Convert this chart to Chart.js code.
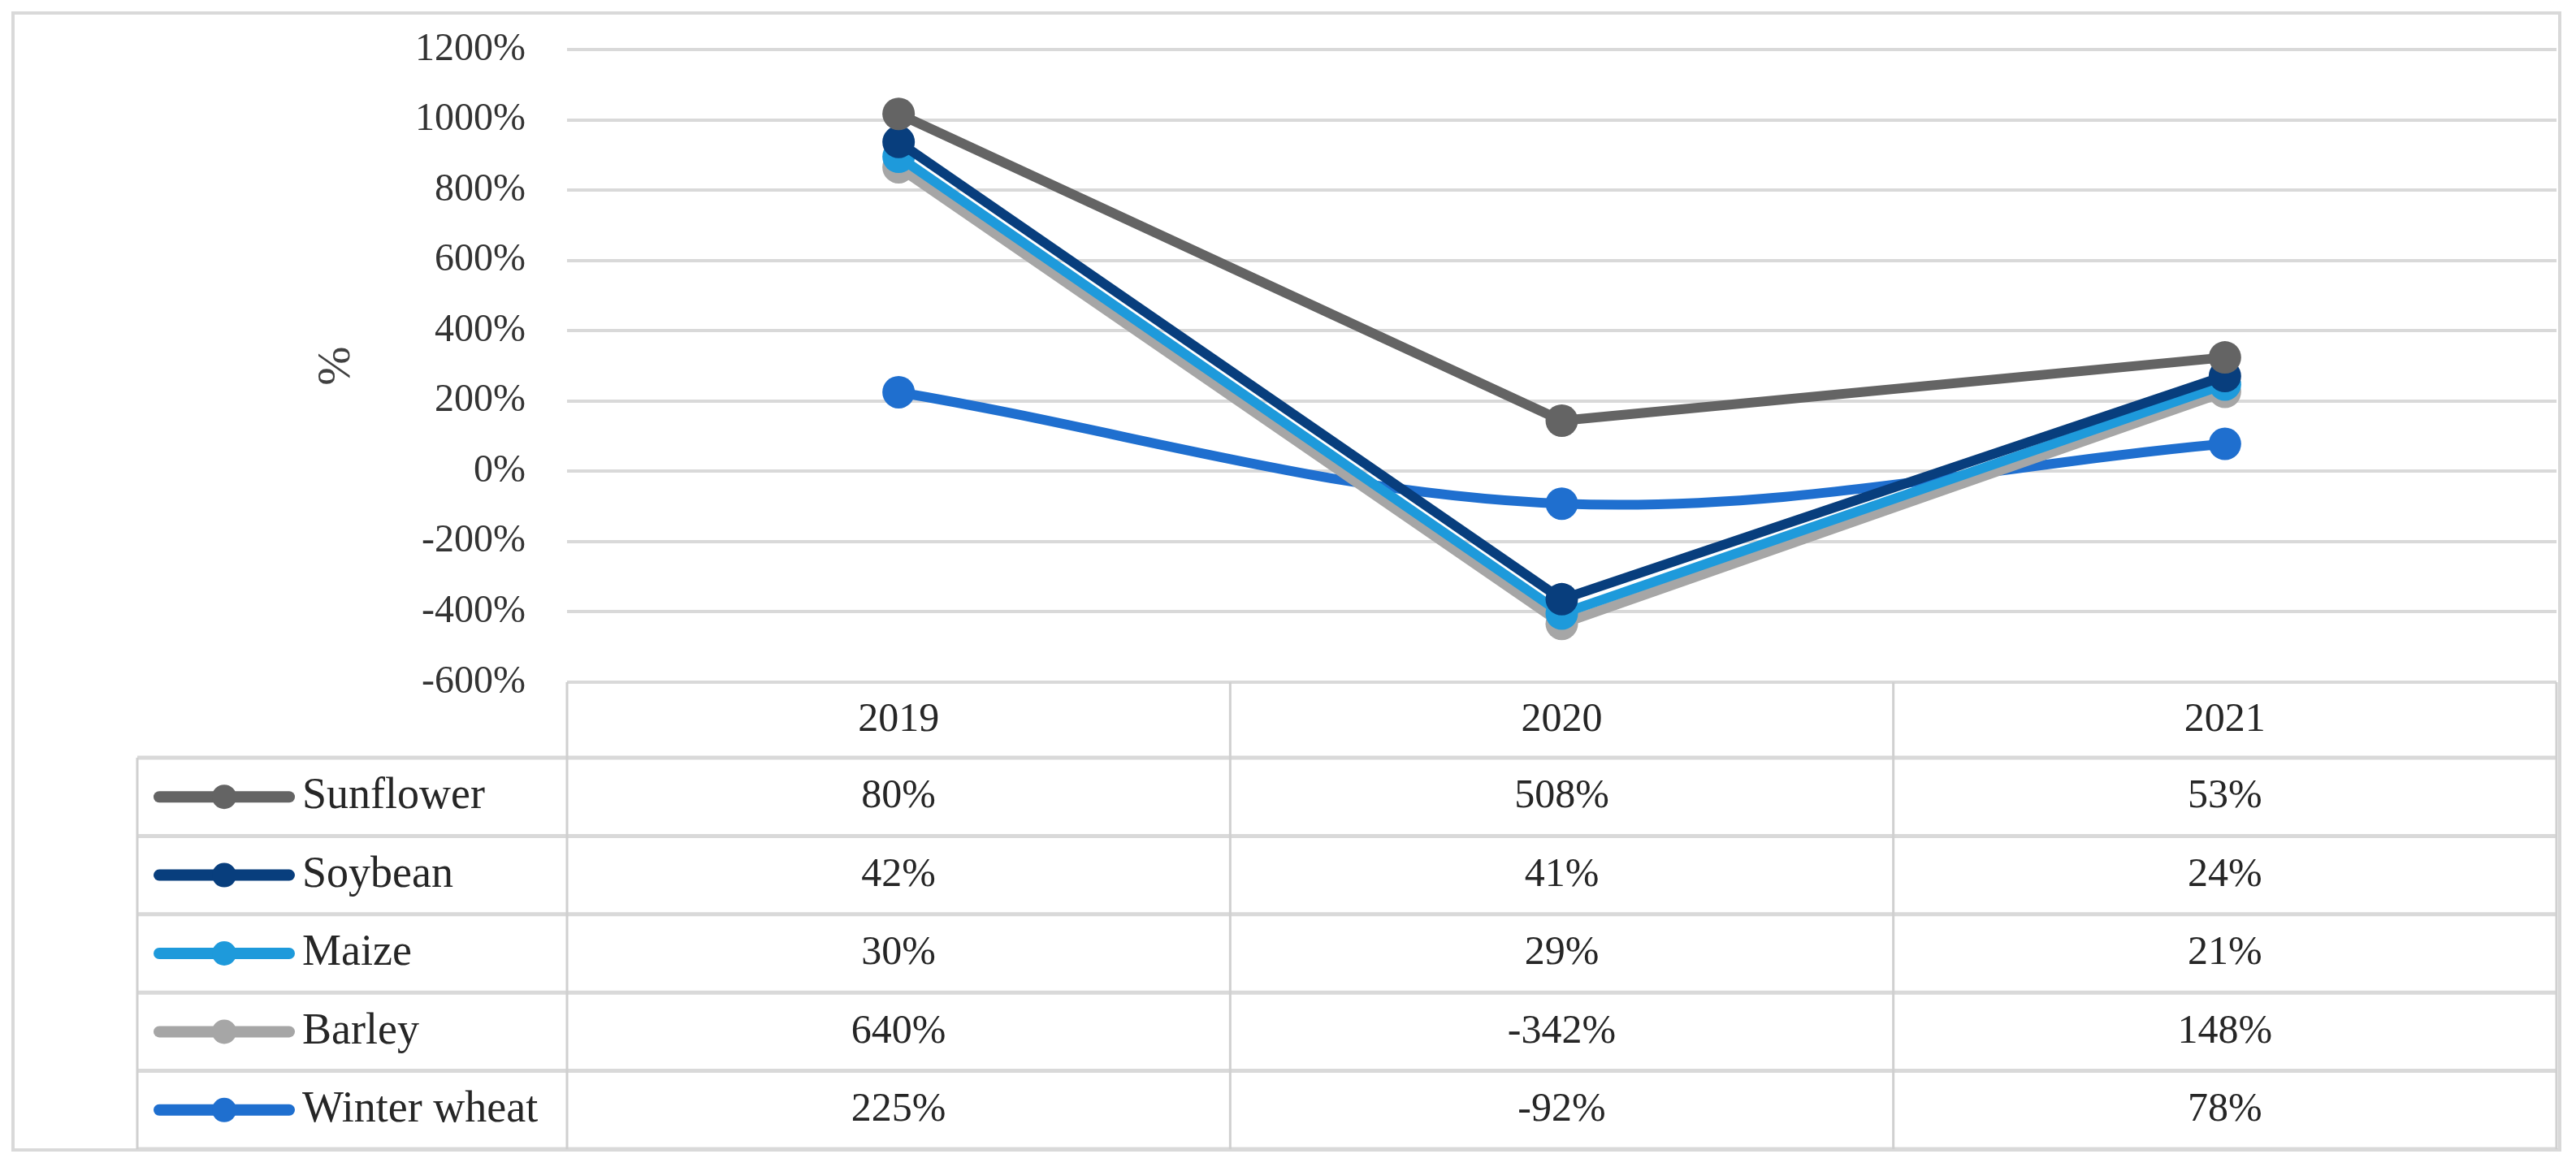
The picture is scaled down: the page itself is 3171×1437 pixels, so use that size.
<!DOCTYPE html>
<html>
<head>
<meta charset="utf-8">
<script src="https://cdn.jsdelivr.net/npm/chart.js@4.4.1/dist/chart.umd.min.js"></script>
<style>
  html, body { margin: 0; padding: 0; background: #fff; }
</style>
</head>
<body>
<canvas id="chart" width="3171" height="1437"></canvas>
<script>
// categories and series (raw values, the chart stacks them like the Excel original)
const years = ['2019', '2020', '2021'];
const crops = ['Sunflower', 'Soybean', 'Maize', 'Barley', 'Winter wheat'];
const sunflower = [80, 508, 53];
const soybean = [42, 41, 24];
const maize = [30, 29, 21];
const barley = [640, -342, 148];
const winterWheat = [225, -92, 78];
const cropColors = ['#646464', '#083E7D', '#1E9ADB', '#A6A6A6', '#1F6FCF'];
const yMin = -600, yMax = 1200, yStep = 200;

const FONT = '"Liberation Serif", "DejaVu Serif", serif';
const GRID = '#D9D9D9';

// table rows in the order shown, stacking goes bottom-up (winter wheat first)
const rows = [sunflower, soybean, maize, barley, winterWheat];
const stackOrder = [4, 3, 2, 1, 0];

const datasets = stackOrder.map(i => ({
  label: crops[i],
  data: rows[i],
  borderColor: cropColors[i],
  backgroundColor: cropColors[i],
  pointBackgroundColor: cropColors[i],
  pointBorderWidth: 0,
  pointRadius: 20,
  borderWidth: 12,
  borderCapStyle: 'round',
  borderJoinStyle: 'round',
  tension: crops[i] === 'Winter wheat' ? 0.35 : 0,
  fill: false
}));

// draw series bottom of stack first so Sunflower ends up on top
const drawOrder = {
  id: 'drawOrder',
  beforeDatasetDraw() { return false; },
  afterDatasetsDraw(chart) {
    for (let i = 0; i < chart.data.datasets.length; i++) {
      chart.getDatasetMeta(i).controller.draw();
    }
  }
};

// data table under the plot + outer frame
const dataTable = {
  id: 'dataTable',
  afterDraw(chart) {
    const ctx = chart.ctx;
    const area = chart.chartArea;
    const x = chart.scales.x;
    const tableLeft = 169;
    const headTop = area.bottom;
    const headH = 93;
    const rowH = 96.4;
    const bottom = headTop + headH + rowH * rows.length;
    const colW = (area.right - area.left) / years.length;

    ctx.save();
    // outer frame
    ctx.strokeStyle = GRID;
    ctx.lineWidth = 4;
    ctx.strokeRect(16, 16, 3135, 1400);

    // horizontal lines
    ctx.lineWidth = 5;
    for (let r = 0; r <= rows.length; r++) {
      const y = headTop + headH + r * rowH;
      ctx.beginPath();
      ctx.moveTo(tableLeft, y);
      ctx.lineTo(area.right, y);
      ctx.stroke();
    }
    // vertical lines
    ctx.lineWidth = 3;
    ctx.strokeStyle = '#D0D0D0';
    for (let c = 0; c <= years.length; c++) {
      const vx = area.left + c * colW;
      ctx.beginPath();
      ctx.moveTo(vx, headTop);
      ctx.lineTo(vx, bottom);
      ctx.stroke();
    }
    ctx.beginPath();
    ctx.moveTo(tableLeft, headTop + headH);
    ctx.lineTo(tableLeft, bottom);
    ctx.stroke();

    ctx.fillStyle = '#262626';
    ctx.font = '50px ' + FONT;
    ctx.textAlign = 'center';
    ctx.textBaseline = 'middle';
    years.forEach((yr, c) => {
      ctx.fillText(yr, x.getPixelForValue(c), headTop + headH / 2);
    });

    rows.forEach((vals, r) => {
      const cy = headTop + headH + r * rowH + rowH / 2;
      // legend key
      ctx.strokeStyle = cropColors[r];
      ctx.lineWidth = 14;
      ctx.lineCap = 'round';
      ctx.beginPath();
      ctx.moveTo(196, cy);
      ctx.lineTo(356, cy);
      ctx.stroke();
      ctx.fillStyle = cropColors[r];
      ctx.beginPath();
      ctx.arc(276, cy, 15, 0, Math.PI * 2);
      ctx.fill();

      ctx.fillStyle = '#262626';
      ctx.textAlign = 'left';
      ctx.font = '54px ' + FONT;
      ctx.fillText(crops[r], 372, cy);
      ctx.textAlign = 'center';
      ctx.font = '50px ' + FONT;
      vals.forEach((v, c) => {
        ctx.fillText(v + '%', x.getPixelForValue(c), cy);
      });
    });
    ctx.restore();
  }
};

new Chart(document.getElementById('chart').getContext('2d'), {
  type: 'line',
  data: { labels: years, datasets: datasets },
  options: {
    responsive: false,
    devicePixelRatio: 1,
    animation: false,
    layout: { padding: { left: 380, top: 61, right: 24, bottom: 597 } },
    plugins: { legend: { display: false }, tooltip: { enabled: false } },
    scales: {
      x: {
        type: 'category',
        offset: true,
        display: false
      },
      y: {
        stacked: 'single',
        min: yMin,
        max: yMax,
        afterFit: s => {
          s.width = 318;
          // tick padding would otherwise push the plot top down
          s.paddingTop = 0;
          s.paddingBottom = 0;
        },
        border: { display: false },
        grid: { color: GRID, lineWidth: 4, drawTicks: false },
        ticks: {
          stepSize: yStep,
          padding: 51,
          color: '#333333',
          font: { family: FONT, size: 48 },
          callback: v => v + '%'
        },
        title: {
          display: true,
          text: '%',
          color: '#404040',
          padding: 0,
          font: { family: FONT, size: 58 }
        }
      }
    }
  },
  plugins: [drawOrder, dataTable]
});
</script>
</body>
</html>
